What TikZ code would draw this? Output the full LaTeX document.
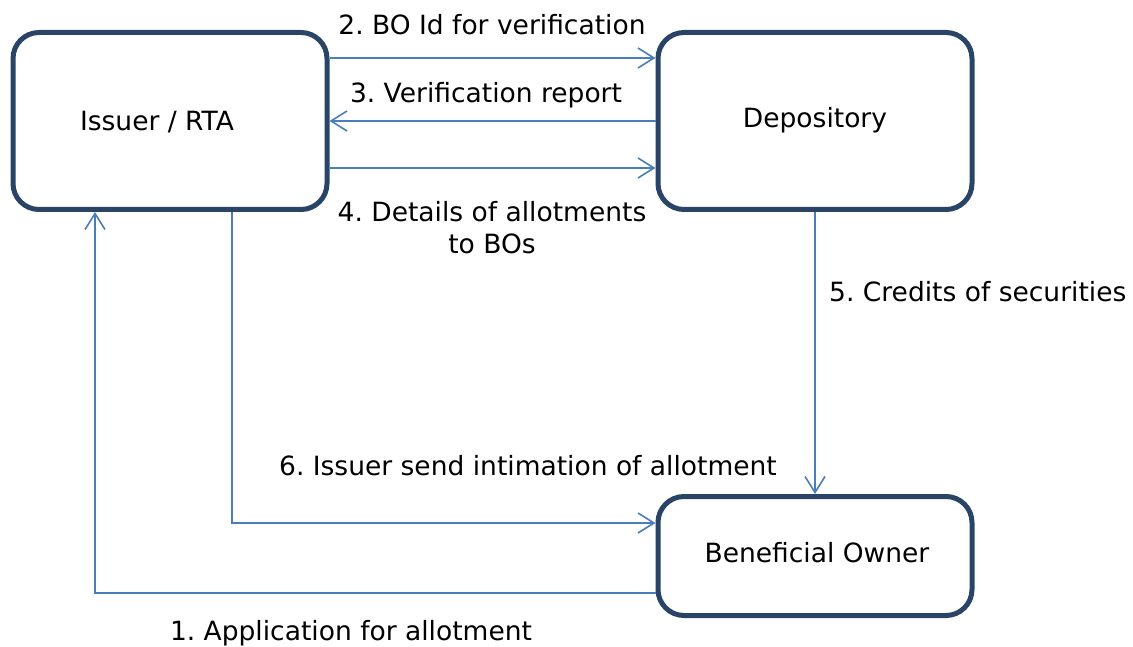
\documentclass[tikz,border=0pt]{standalone}
\usepackage{fontspec}
\setmainfont{DejaVu Sans}
\usetikzlibrary{arrows.meta}
\definecolor{boxcol}{HTML}{294467}
\definecolor{arrcol}{HTML}{4A7EBB}
\frenchspacing
\begin{document}
\begin{tikzpicture}[x=1pt,y=-1pt,
  every node/.style={font=\fontsize{26.5}{32}\selectfont},
  ent/.style={draw=boxcol,line width=5pt,rounded corners=26pt,fill=white,minimum width=314pt,inner sep=0pt},
  conn/.style={draw=arrcol,line width=1.6pt,-{Straight Barb[length=16pt,width=20pt,line width=1.6pt]}},
  lbl/.style={inner sep=0pt,align=center}]
\useasboundingbox (0,0) rectangle (1133,647);
\node[ent,minimum height=177pt] (iss) at (170,121) {};
\node[inner sep=0pt] at (157,122) {Issuer / RTA};
\node[ent,minimum height=177pt] (dep) at (815,121) {};
\node[inner sep=0pt] at (815,120) {Depository};
\node[ent,minimum height=119pt] (bo) at (815,556) {};
\node[inner sep=0pt] at (817,553) {Beneficial Owner};
% connectors
\draw[conn] (iss.east |- 0,58) -- (dep.west |- 0,58);
\draw[conn] (dep.west |- 0,121) -- (iss.east |- 0,121);
\draw[conn] (iss.east |- 0,168) -- (dep.west |- 0,168);
\draw[conn] (dep.south) -- (bo.north);
\coordinate (c6a) at (232,523);
\draw[conn] (iss.south -| 232,0) -- (c6a) -- (bo.west |- c6a);
\coordinate (c1a) at (95,593);
\draw[conn] (bo.west |- c1a) -- (c1a) -- (iss.south -| c1a);
% labels
\node[lbl] at (492,25) {2. BO Id for verification};
\node[lbl] at (486,95) {3. Verification report};
\node[lbl] at (492,228) {4. Details of allotments\\to BOs};
\node[lbl,anchor=west] at (829,292) {5. Credits of securities};
\node[lbl] at (528,466) {6. Issuer send intimation of allotment};
\node[lbl] at (351,633) {1. Application for allotment};
\end{tikzpicture}
\end{document}
